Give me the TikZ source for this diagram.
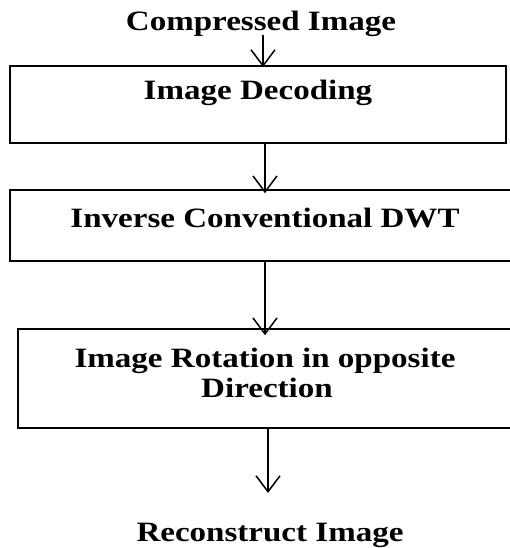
\documentclass[tikz,border=0pt]{standalone}
\usepackage{fontspec}
\newfontfamily\diagfont{Liberation Serif}[FakeStretch=1.18]
\usetikzlibrary{arrows.meta}
\tikzset{
  box/.style={draw=black, line width=1.6pt, minimum width=#1, inner sep=0pt},
  lbl/.style={font=\diagfont\bfseries\fontsize{28}{30}\selectfont, inner sep=0pt, anchor=base, text=black},
  arr/.style={line width=1.5pt, -{Straight Barb[length=16pt,width=24pt,line width=1.5pt]}}
}
\begin{document}
\begin{tikzpicture}[x=1pt,y=-1pt]
\useasboundingbox (0,0) rectangle (509,548);
% boxes
\node[box=496pt, minimum height=77pt] (b1) at (258,104.5) {};
\node[box=510pt, minimum height=71pt] (b2) at (265,225.5) {};
\node[box=494pt, minimum height=99pt] (b3) at (265,378.5) {};
% texts
\node[lbl] (t0) at (261,31) {Compressed Image};
\node[lbl] (t1) at (258,100) {Image Decoding};
\node[lbl] (t2) at (265,227) {Inverse Conventional DWT};
\node[lbl] (t3a) at (265,367) {Image Rotation in opposite};
\node[lbl] (t3b) at (267,397) {Direction};
\node[lbl] (t4) at (270,541) {Reconstruct Image};
% arrow coordinates
\coordinate (a1s) at (263,35);
\coordinate (a1e) at (263,67);
\coordinate (a4s) at (268,428);
\coordinate (a4e) at (268,493);
% connectors
\draw[arr] (a1s) -- (a1e);
\draw[arr] (b2.north |- b1.south) -- ([yshift=-4pt]b2.north);
\draw[arr] (b2.south) -- ([yshift=-7pt]b3.north);
\draw[arr] (a4s) -- (a4e);
\end{tikzpicture}
\end{document}
